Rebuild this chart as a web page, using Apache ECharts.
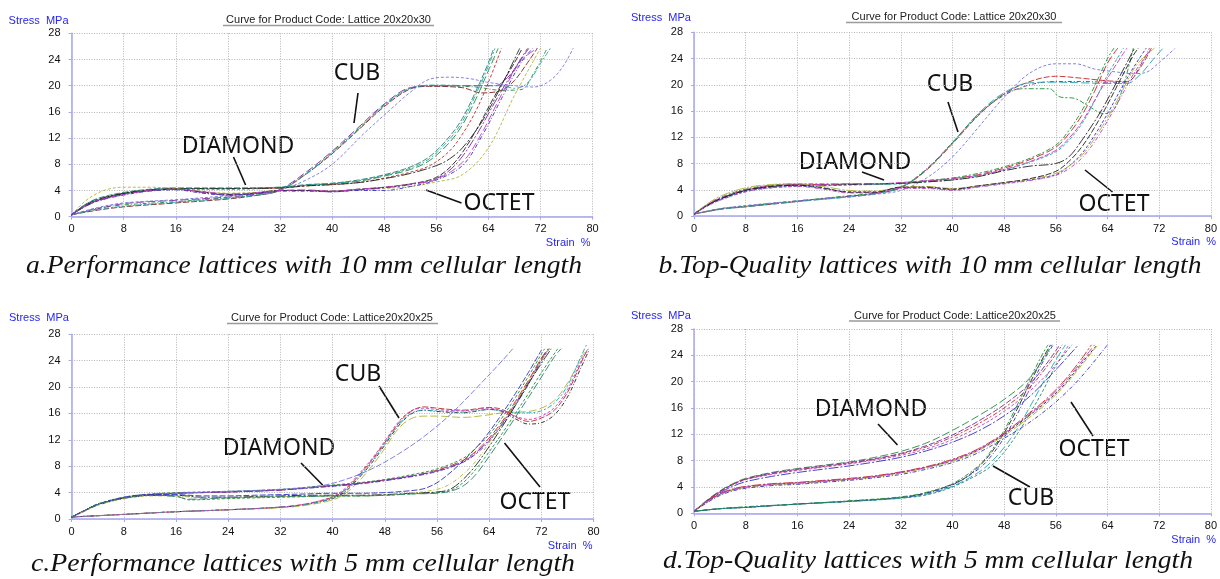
<!DOCTYPE html>
<html>
<head>
<meta charset="utf-8">
<script src="https://cdn.jsdelivr.net/npm/echarts@6/dist/echarts.min.js"></script>
<style>
html,body{margin:0;padding:0;background:#fff;}
#c{width:1220px;height:579px;}
</style>
</head>
<body>
<div id="c"></div>
<script>
// ---------- axis ticks ----------
const strainTicks = [0, 8, 16, 24, 32, 40, 48, 56, 64, 72, 80];
const stressTicks = [0, 4, 8, 12, 16, 20, 24, 28];

// ---------- panel a : Performance 10 mm ----------
const aCUB = [
 [[0,0.3],[4,1.0],[8,1.5],[16,2.1],[24,2.7],[28,3.2],[32,4.0],[36,6.5],[40,9.6],[44,13.2],[48,16.8],[52,19.5],[55,19.9],[60,19.7],[63,18.9],[66,19.3],[68,20.8],[70,23.5],[71.5,25.7]],
 [[0,0.3],[4,1.3],[8,1.8],[16,2.3],[24,2.9],[28,3.3],[32,4.1],[36,6.6],[40,9.8],[44,13.4],[48,17.0],[52,19.6],[56,20.0],[62,19.8],[66,19.3],[69,19.4],[71,22.0],[73,25.7]],
 [[0,0.3],[4,1.2],[8,2.0],[16,2.5],[24,3.0],[28,3.4],[32,4.2],[36,6.8],[40,10.0],[44,13.6],[48,17.2],[52,19.7],[56,20.0],[62,20.0],[65,20.0],[67,21.3],[69,24.0],[70.2,25.7]],
 [[0,0.3],[4,1.1],[8,1.6],[16,2.2],[24,2.8],[28,3.2],[32,4.0],[36,6.5],[40,9.7],[44,13.3],[48,17.0],[52,19.6],[56,20.1],[62,20.0],[66,20.0],[68,19.6],[70,20.4],[72,23.4],[73.5,25.7]],
 [[0,0.3],[4,1.4],[8,2.1],[16,2.6],[24,3.2],[28,3.6],[32,4.1],[36,5.6],[40,8.0],[45,12.8],[49,16.4],[52,19.0],[55,21.0],[58,21.3],[61,21.1],[64,20.5],[68,20.0],[71,19.8],[73.5,20.8],[75.5,23.0],[77,25.7]]
];
const aDIAMOND = [
 [[0,0.3],[2,1.8],[4,2.7],[8,3.6],[12,4.1],[16,4.3],[24,4.3],[32,4.4],[36,4.8],[40,5.0],[44,5.4],[48,6.2],[52,7.2],[55,8.6],[58,11.3],[60,14.0],[62,17.8],[64,22.3],[65.5,25.7]],
 [[0,0.3],[2,1.7],[4,2.6],[8,3.5],[12,4.0],[16,4.3],[24,4.3],[32,4.5],[36,4.8],[40,5.1],[44,5.5],[48,6.3],[52,7.4],[55,8.9],[58,11.8],[60,14.5],[62,18.5],[64,23.0],[65,25.7]],
 [[0,0.3],[2,1.6],[4,2.5],[8,3.5],[12,4.0],[16,4.2],[24,4.2],[32,4.4],[36,4.7],[40,4.9],[44,5.2],[48,5.9],[52,6.8],[55,7.8],[58,10.0],[60,12.6],[62,16.0],[64,20.5],[66,25.7]],
 [[0,0.3],[2,1.7],[4,2.6],[8,3.6],[12,4.1],[16,4.3],[24,4.3],[32,4.4],[36,4.7],[40,4.9],[44,5.2],[48,5.8],[52,6.6],[56,7.8],[58,8.8],[60,10.5],[63,14.5],[66,20.0],[68.8,25.7]],
 [[0,0.3],[2,1.8],[4,2.8],[8,3.7],[12,4.2],[16,4.4],[24,4.4],[32,4.5],[36,4.9],[40,5.1],[44,5.6],[48,6.4],[52,7.6],[55,9.2],[58,12.2],[60,15.0],[62,19.0],[64,23.5],[64.8,25.7]]
];
const aOCTET = [
 [[0,0.3],[2,2.3],[4,3.6],[6,4.3],[8,4.5],[12,4.5],[16,4.3],[20,3.9],[24,3.6],[28,3.7],[32,4.0],[36,4.0],[40,3.9],[44,4.1],[48,4.3],[52,4.6],[56,5.3],[60,6.4],[64,10.5],[68,18.5],[72,25.7]],
 [[0,0.3],[2,1.5],[4,2.4],[8,3.4],[12,4.0],[16,4.2],[20,3.7],[24,3.3],[28,3.5],[32,4.0],[36,4.0],[40,3.8],[44,4.1],[48,4.4],[52,4.9],[56,5.8],[59,8.0],[62,12.2],[65,17.5],[68,22.5],[70,25.7]],
 [[0,0.3],[2,1.6],[4,2.5],[8,3.5],[12,4.0],[16,4.2],[20,3.8],[24,3.4],[28,3.6],[32,4.0],[36,4.0],[40,3.9],[44,4.2],[48,4.5],[52,5.0],[56,6.0],[59,8.5],[62,13.0],[65,18.5],[68,23.5],[69.2,25.7]],
 [[0,0.3],[2,1.5],[4,2.4],[8,3.3],[12,3.9],[16,4.1],[20,3.6],[24,3.3],[28,3.5],[32,3.9],[36,3.9],[40,3.8],[44,4.0],[48,4.0],[52,4.6],[56,5.6],[60,7.8],[63,12.3],[66,18.0],[69,23.5],[70.8,25.7]],
 [[0,0.3],[2,1.6],[4,2.5],[8,3.4],[12,4.0],[16,4.2],[20,3.8],[24,3.5],[28,3.6],[32,4.0],[36,4.1],[40,3.9],[44,4.2],[48,4.5],[52,5.0],[56,5.7],[60,8.3],[63,12.8],[66,18.6],[69,23.8],[71.5,25.7]]
];

// ---------- panel b : Top-Quality 10 mm ----------
const bCUB = [
 [[0,0.3],[4,1.0],[8,1.4],[16,2.2],[24,3.0],[28,3.4],[32,4.3],[36,7.0],[40,11.0],[44,15.3],[48,18.6],[52,20.5],[56,21.3],[60,21.0],[64,20.6],[67,20.5],[69,22.5],[70.8,25.6]],
 [[0,0.3],[4,1.1],[8,1.5],[16,2.3],[24,3.0],[28,3.5],[32,4.4],[36,7.2],[40,11.2],[44,15.5],[48,18.4],[52,20.0],[56,20.5],[60,20.5],[64,20.4],[67,20.4],[69,22.8],[70.5,25.6]],
 [[0,0.3],[4,1.0],[8,1.4],[16,2.2],[24,2.9],[28,3.4],[32,4.3],[36,7.1],[40,11.1],[44,15.6],[48,18.8],[52,20.3],[56,20.4],[60,20.3],[64,20.2],[67,20.2],[69,21.5],[71,23.8],[72.6,25.6]],
 [[0,0.3],[4,1.1],[8,1.5],[16,2.3],[24,3.1],[28,3.5],[32,4.4],[36,7.1],[40,11.2],[44,15.4],[48,18.6],[51,19.4],[55,19.4],[56.5,18.2],[59,17.9],[61,16.8],[63.5,15.6],[65,16.2],[66.5,20.0],[68,25.6]],
 [[0,0.3],[4,1.1],[8,1.6],[16,2.3],[24,2.9],[28,3.3],[32,3.9],[36,5.8],[40,9.0],[44,13.5],[48,18.1],[52,21.8],[56,23.2],[59,23.2],[62,22.4],[65,22.0],[68,21.7],[70,21.9],[72,23.4],[74.4,25.5]]
];
const bDIAMOND = [
 [[0,0.3],[2,1.6],[4,2.6],[8,4.0],[12,4.6],[16,4.8],[20,4.8],[24,4.9],[28,4.9],[32,5.0],[36,5.3],[40,5.7],[44,6.3],[48,7.3],[52,8.6],[56,10.5],[58,12.5],[60,15.3],[62,19.0],[64,23.3],[65.6,25.6]],
 [[0,0.3],[2,1.7],[4,2.8],[8,4.1],[12,4.7],[16,4.9],[20,4.9],[24,4.8],[28,4.8],[32,5.0],[36,5.4],[40,5.8],[44,6.5],[48,7.5],[52,8.8],[56,10.8],[58,13.0],[60,16.0],[62,19.8],[64,24.0],[65,25.6]],
 [[0,0.3],[2,1.5],[4,2.4],[8,3.7],[12,4.3],[16,4.5],[20,4.6],[24,4.7],[28,4.8],[32,4.9],[36,5.2],[40,5.5],[44,6.1],[48,7.0],[52,8.2],[56,9.8],[58,11.5],[60,14.0],[62,17.5],[64,21.5],[66.5,25.6]],
 [[0,0.3],[2,1.6],[4,2.6],[8,3.9],[12,4.5],[16,4.7],[20,4.7],[24,4.8],[28,4.9],[32,5.0],[36,5.2],[40,5.5],[44,6.0],[48,6.9],[52,7.6],[56,8.0],[58,9.0],[60,11.5],[63,16.0],[66,21.5],[68.2,25.6]],
 [[0,0.3],[2,1.7],[4,2.7],[8,4.0],[12,4.6],[16,4.8],[20,4.8],[24,4.9],[28,4.9],[32,5.1],[36,5.4],[40,5.7],[44,6.2],[48,7.1],[52,8.3],[56,10.0],[58,11.8],[60,14.3],[62,17.6],[64,21.0],[67,25.6]]
];
const bOCTET = [
 [[0,0.3],[2,1.5],[4,2.5],[8,3.8],[12,4.4],[16,4.6],[20,4.2],[24,3.7],[28,3.7],[32,4.3],[36,4.3],[40,4.0],[44,4.5],[48,5.0],[52,5.5],[56,6.3],[58,7.6],[60,9.5],[62,12.3],[64,15.6],[66,19.2],[68,22.6],[70,25.6]],
 [[0,0.3],[2,1.8],[4,3.0],[8,4.3],[12,4.8],[16,4.9],[20,4.5],[24,3.9],[28,3.8],[32,4.4],[36,4.5],[40,4.2],[44,4.6],[48,5.1],[52,5.6],[56,6.5],[58,7.6],[60,9.2],[62,11.8],[64,15.0],[66,18.5],[68.5,23.0],[71.3,25.6]],
 [[0,0.3],[2,1.6],[4,2.6],[8,3.9],[12,4.5],[16,4.7],[20,4.3],[24,3.6],[28,3.6],[32,4.4],[36,4.4],[40,4.1],[44,4.6],[48,5.1],[52,5.7],[56,6.8],[58,8.3],[60,10.5],[62,13.5],[64,17.0],[66,20.8],[68,24.5],[68.8,25.6]],
 [[0,0.3],[2,1.5],[4,2.4],[8,3.7],[12,4.3],[16,4.5],[20,4.1],[24,3.5],[28,3.5],[32,4.2],[36,4.2],[40,3.9],[44,4.4],[48,4.9],[52,5.4],[56,6.2],[58,7.2],[60,8.8],[62,11.3],[64,14.5],[66,18.0],[68,21.6],[70.8,25.6]]
];

// ---------- panel c : Performance 5 mm ----------
const cCUB = [
 [[0,0.3],[4,0.5],[8,0.7],[16,1.1],[24,1.4],[32,1.8],[36,2.3],[40,3.3],[42,4.5],[44,6.6],[46,8.9],[48,11.6],[50,14.4],[52,16.3],[54,17.0],[56,16.8],[60,16.5],[64,16.9],[66,16.6],[68,15.5],[70,14.8],[72,15.3],[74,16.5],[76,19.2],[78,23.5],[79,25.6]],
 [[0,0.3],[4,0.5],[8,0.7],[16,1.1],[24,1.4],[32,1.8],[36,2.2],[40,3.1],[42,4.2],[44,6.2],[46,8.5],[48,11.2],[50,14.0],[52,15.9],[54,16.5],[56,16.3],[60,16.1],[64,16.6],[66,16.3],[68,15.2],[70,14.4],[72,14.6],[74,15.8],[76,18.5],[78,22.8],[79.3,25.6]],
 [[0,0.3],[4,0.5],[8,0.7],[16,1.1],[24,1.4],[32,1.7],[36,2.1],[40,2.9],[42,3.9],[44,5.7],[46,8.0],[48,10.7],[50,13.6],[52,15.2],[54,15.6],[56,15.6],[60,15.4],[64,15.8],[66,16.1],[68,16.2],[70,16.3],[72,16.8],[74,18.0],[76,20.6],[78,24.2],[78.8,25.6]],
 [[0,0.3],[4,0.5],[8,0.7],[16,1.1],[24,1.4],[32,1.8],[36,2.2],[40,3.2],[42,4.4],[44,6.4],[46,8.7],[48,11.4],[50,14.2],[52,16.0],[54,16.5],[56,16.4],[60,16.2],[64,16.6],[66,16.4],[68,16.1],[70,16.1],[72,16.4],[74,17.6],[76,20.2],[78,24.5],[79,26.6]],
 [[0,0.3],[4,0.5],[8,0.7],[16,1.1],[24,1.4],[32,1.8],[36,2.3],[40,3.4],[42,4.7],[44,6.8],[46,9.1],[48,11.8],[50,14.6],[52,16.4],[54,16.8],[56,16.6],[60,16.4],[64,16.8],[66,16.4],[68,15.6],[70,15.1],[72,15.6],[74,16.9],[76,19.6],[78,23.8],[79.2,25.8]]
];
const cDIAMOND = [
 [[0,0.3],[2,1.3],[4,2.2],[8,3.2],[12,3.7],[16,3.9],[24,4.1],[32,4.4],[38,4.9],[44,5.4],[48,5.9],[52,6.5],[56,7.4],[60,8.9],[62,10.3],[64,12.3],[66,14.8],[68,17.8],[70,21.0],[72,24.4],[73,25.8]],
 [[0,0.3],[2,1.2],[4,2.1],[8,3.1],[12,3.6],[16,3.9],[24,4.1],[32,4.4],[38,4.8],[44,5.3],[48,5.8],[52,6.4],[56,7.2],[60,8.6],[62,9.9],[64,11.8],[66,14.3],[68,17.2],[70,20.4],[72,24.0],[73.2,25.8]],
 [[0,0.3],[2,1.3],[4,2.3],[8,3.3],[12,3.8],[16,4.0],[24,4.2],[32,4.5],[38,5.0],[44,5.5],[48,6.0],[52,6.7],[56,7.6],[60,9.2],[62,10.8],[64,12.8],[66,15.4],[68,18.4],[70,21.6],[72,25.0],[72.5,25.8]],
 [[0,0.3],[2,1.2],[4,2.2],[8,3.2],[12,3.7],[16,3.9],[24,4.1],[32,4.4],[38,4.9],[44,5.4],[48,5.9],[52,6.5],[56,7.3],[60,8.7],[62,10.1],[64,12.0],[66,14.5],[68,17.5],[70,20.7],[72,24.2],[73.1,25.8]],
 [[0,0.3],[2,1.3],[4,2.2],[8,3.2],[12,3.7],[16,3.9],[24,4.2],[32,4.5],[38,5.0],[42,6.0],[46,7.6],[50,9.8],[54,12.5],[58,15.8],[62,19.8],[66,24.0],[67.6,25.8]]
];
const cOCTET = [
 [[0,0.3],[2,1.3],[4,2.2],[8,3.2],[12,3.6],[16,3.5],[18,2.9],[24,3.1],[28,3.2],[32,3.3],[36,3.4],[40,3.5],[44,3.5],[48,3.6],[52,3.8],[56,4.0],[58,4.3],[60,5.5],[62,7.6],[64,10.2],[66,13.0],[68,16.0],[70,19.0],[72,22.2],[74.5,25.8]],
 [[0,0.3],[2,1.3],[4,2.2],[8,3.2],[12,3.6],[16,3.6],[20,3.3],[24,3.3],[28,3.4],[32,3.5],[36,3.6],[40,3.6],[44,3.6],[48,3.7],[52,3.9],[56,4.1],[58,4.5],[60,6.0],[62,8.2],[64,11.0],[66,14.0],[68,17.2],[70,20.5],[72,23.6],[73.5,25.8]],
 [[0,0.3],[2,1.3],[4,2.2],[8,3.3],[12,3.7],[16,3.7],[20,3.5],[24,3.5],[28,3.6],[32,3.7],[36,3.8],[40,3.9],[44,3.9],[48,4.0],[52,4.3],[54,4.6],[56,5.5],[58,7.0],[60,8.8],[62,10.8],[64,13.2],[66,16.0],[68,19.0],[70,22.2],[72,25.6]],
 [[0,0.3],[2,1.2],[4,2.1],[8,3.1],[12,3.5],[16,3.5],[20,3.2],[24,3.2],[28,3.3],[32,3.4],[36,3.4],[40,3.5],[44,3.5],[48,3.6],[52,3.9],[56,4.5],[58,5.3],[60,6.8],[62,8.8],[64,11.6],[66,14.5],[68,17.6],[70,20.8],[72,24.0],[73.2,25.8]],
 [[0,0.3],[2,1.3],[4,2.2],[8,3.2],[12,3.6],[16,3.4],[18,3.0],[24,3.2],[28,3.3],[32,3.4],[36,3.4],[40,3.5],[44,3.5],[48,3.6],[52,3.8],[56,3.9],[58,4.2],[60,5.0],[62,6.8],[64,9.5],[66,12.4],[68,15.4],[70,18.4],[72,21.5],[74,24.6],[75,25.8]]
];

// ---------- panel d : Top-Quality 5 mm ----------
const dDIAMOND = [
 [[0,0.3],[2,2.0],[4,3.4],[6,4.5],[8,5.3],[12,6.2],[16,6.8],[20,7.3],[24,7.8],[28,8.5],[32,9.4],[36,10.7],[40,12.6],[44,14.8],[48,17.3],[52,20.6],[55.4,25.6]],
 [[0,0.3],[2,1.9],[4,3.3],[6,4.4],[8,5.2],[12,6.0],[16,6.6],[20,7.1],[24,7.6],[28,8.2],[32,9.0],[36,10.1],[40,11.6],[44,13.6],[48,16.0],[52,19.2],[55,22.8],[57,25.6]],
 [[0,0.3],[2,1.9],[4,3.2],[6,4.3],[8,5.1],[12,5.9],[16,6.5],[20,7.0],[24,7.5],[28,8.1],[32,8.8],[36,9.8],[40,11.2],[44,13.1],[48,15.5],[52,18.6],[56,22.6],[58,25.6]],
 [[0,0.3],[2,1.8],[4,3.1],[6,4.1],[8,4.8],[12,5.6],[16,6.2],[20,6.7],[24,7.2],[28,7.8],[32,8.5],[36,9.5],[40,10.8],[44,12.5],[48,14.8],[52,17.8],[56,21.8],[59.5,25.6]],
 [[0,0.3],[2,1.9],[4,3.3],[6,4.4],[8,5.2],[12,6.1],[16,6.7],[20,7.2],[24,7.7],[28,8.3],[32,9.1],[36,10.3],[40,11.9],[44,14.0],[48,16.5],[52,19.7],[55,23.3],[56.6,25.6]]
];
const dOCTET = [
 [[0,0.3],[2,1.7],[4,2.9],[6,3.6],[8,4.0],[12,4.4],[16,4.6],[20,4.9],[24,5.2],[28,5.6],[32,6.2],[36,7.0],[40,8.0],[44,9.6],[48,12.0],[51,14.2],[54,16.5],[57,19.2],[60,22.8],[62.4,25.6]],
 [[0,0.3],[2,1.8],[4,3.0],[6,3.7],[8,4.1],[12,4.5],[16,4.7],[20,5.0],[24,5.3],[28,5.7],[32,6.3],[36,7.1],[40,8.2],[44,9.8],[48,12.2],[51,14.5],[54,16.9],[57,19.8],[60,23.5],[61.5,25.6]],
 [[0,0.3],[2,1.7],[4,2.8],[6,3.5],[8,3.9],[12,4.3],[16,4.5],[20,4.8],[24,5.1],[28,5.5],[32,6.1],[36,6.9],[40,7.9],[44,9.5],[48,11.8],[51,13.9],[54,16.2],[57,19.0],[60,22.5],[62.5,25.6]],
 [[0,0.3],[2,1.6],[4,2.7],[6,3.4],[8,3.8],[12,4.2],[16,4.4],[20,4.7],[24,5.0],[28,5.4],[32,5.9],[36,6.7],[40,7.7],[44,9.2],[48,11.4],[51,13.2],[54,15.3],[57,17.8],[60,20.8],[64,25.6]],
 [[0,0.3],[2,1.8],[4,2.9],[6,3.6],[8,4.0],[12,4.4],[16,4.6],[20,4.9],[24,5.2],[28,5.6],[32,6.2],[36,7.0],[40,8.1],[44,9.7],[48,12.1],[51,14.3],[54,16.7],[57,19.5],[60,23.1],[62,25.6]]
];
const dCUB = [
 [[0,0.3],[4,0.7],[8,0.9],[16,1.4],[24,1.85],[32,2.4],[36,3.1],[40,4.4],[42,5.4],[44,7.0],[46,9.2],[48,12.2],[50,15.8],[52,19.8],[54,23.6],[55.2,25.6]],
 [[0,0.3],[4,0.7],[8,0.9],[16,1.4],[24,1.8],[32,2.4],[36,3.0],[40,4.3],[44,6.7],[46,8.7],[48,11.5],[50,15.0],[52,19.0],[54,23.0],[55.6,25.6]],
 [[0,0.3],[4,0.7],[8,0.9],[16,1.4],[24,1.8],[32,2.3],[36,2.9],[40,4.1],[44,6.2],[46,7.8],[48,10.0],[50,12.8],[52,16.2],[54,19.8],[56,23.3],[57.5,25.6]],
 [[0,0.3],[4,0.7],[8,1.0],[16,1.4],[24,1.9],[32,2.5],[36,3.2],[40,4.5],[44,7.2],[46,9.5],[48,12.6],[50,16.4],[52,20.4],[54,24.3],[54.8,25.6]],
 [[0,0.3],[4,0.7],[8,0.9],[16,1.4],[24,1.8],[32,2.3],[36,2.8],[40,4.0],[44,5.9],[46,7.2],[48,9.3],[50,12.0],[52,15.2],[54,18.6],[56,22.4],[58.5,25.6]]
];

// ---------- texts ----------
const panelTitles = ['Curve for Product Code: Lattice 20x20x30','Curve for Product Code: Lattice 20x20x30','Curve for Product Code: Lattice20x20x25','Curve for Product Code: Lattice20x20x25'];
const captions = ['a.Performance lattices with 10 mm cellular length','b.Top-Quality lattices with 10 mm cellular length','c.Performance lattices with 5 mm cellular length','d.Top-Quality lattices with 5 mm cellular length'];
const yName = 'Stress  MPa';
const xName = 'Strain  %';

// ---------- layout & styles (pixels / colours) ----------
const grids = [
  {left:71.6, top:33.3, width:521, height:183.4},
  {left:694, top:32.3, width:522, height:183.7},
  {left:71.6, top:334.3, width:522, height:184.7},
  {left:694, top:329, width:522, height:184.3}
];
const panelGroups = [
  [aCUB, aDIAMOND, aOCTET],
  [bCUB, bDIAMOND, bOCTET],
  [cCUB, cDIAMOND, cOCTET],
  [dCUB, dDIAMOND, dOCTET]
];
const C = {red:'#c42828', maroon:'#8a1c1c', green:'#1f8f3a', purple:'#7a2a9e', cyan:'#1ea6b0', blue:'#3030c8',
           lblue:'#7474e0', black:'#222222', olive:'#b3b336', magenta:'#c23cc2', teal:'#2a8070'};
const curveColors = [
  [['maroon','green','purple','cyan','lblue'], ['green','cyan','red','black','teal'], ['olive','purple','black','blue','magenta']],
  [['red','purple','cyan','green','lblue'], ['red','green','cyan','black','magenta'], ['blue','olive','black','magenta']],
  [['red','black','olive','cyan','magenta'], ['red','blue','green','purple','lblue'], ['green','black','blue','olive','teal']],
  [['black','blue','cyan','green','teal'], ['green','red','magenta','blue','purple'], ['black','red','olive','blue','magenta']]
];
const dashes = [[6,2],[4,2,1,2],[8,3],[5,2,2,2],[3,2],[10,2,2,2]];

const series = [];
panelGroups.forEach((groups, p) => {
  groups.forEach((curves, g) => {
    curves.forEach((curve, i) => {
      series.push({
        type:'line', xAxisIndex:p, yAxisIndex:p, data:curve,
        smooth:0.35, symbol:'none', silent:true,
        lineStyle:{color:C[curveColors[p][g][i]], width:1, type:dashes[(g*2+i) % dashes.length], opacity:0.9}
      });
    });
  });
});

const axisBlue = '#a7a7f2';
const xAxes = grids.map((g, i) => ({
  type:'value', gridIndex:i, min:strainTicks[0], max:strainTicks[strainTicks.length-1], interval:8,
  axisLine:{show:true, onZero:false, lineStyle:{color:axisBlue, width:1.5}},
  axisTick:{show:true, length:3, lineStyle:{color:axisBlue}},
  axisLabel:{color:'#111', fontSize:11, fontFamily:'Liberation Sans', margin:7},
  splitLine:{show:true, lineStyle:{color:'#b4b4b4', type:[1,1.5], width:1}}
}));
const yAxes = grids.map((g, i) => ({
  type:'value', gridIndex:i, min:stressTicks[0], max:stressTicks[stressTicks.length-1], interval:4,
  axisLine:{show:true, onZero:false, lineStyle:{color:axisBlue, width:1.5}},
  axisTick:{show:true, length:3, lineStyle:{color:axisBlue}},
  axisLabel:{color:'#111', fontSize:11, fontFamily:'Liberation Sans', margin:11},
  splitLine:{show:true, lineStyle:{color:'#b4b4b4', type:[1,1.5], width:1}}
}));

// annotation positions (pixels)
const notes = [
  {t:'CUB', x:357, y:73, l:[358,93,354,123]},
  {t:'DIAMOND', x:238, y:146, l:[233.5,157,245.6,185]},
  {t:'OCTET', x:499, y:203, l:[426,190,461.5,203]},
  {t:'CUB', x:950, y:84, l:[948,102,958,132]},
  {t:'DIAMOND', x:855, y:162, l:[862,172,884,180]},
  {t:'OCTET', x:1114, y:204, l:[1085,170,1112.5,192]},
  {t:'CUB', x:358, y:374, l:[379,386,399,418]},
  {t:'DIAMOND', x:279, y:448, l:[301,463,322.6,485]},
  {t:'OCTET', x:535, y:502, l:[504.5,443,540,487]},
  {t:'DIAMOND', x:871, y:409, l:[878,424,897.5,445]},
  {t:'CUB', x:1031, y:498, l:[993,466,1030,487]},
  {t:'OCTET', x:1094, y:449, l:[1071,402,1093,436]}
];
const titlePos = [
  {x:328.5, y:20, u:[223,434,25.5]},
  {x:954, y:17, u:[846,1062,22.5]},
  {x:332, y:318, u:[227,438,323.5]},
  {x:955, y:316, u:[849,1060,321]}
];
const yNamePos = [[8.6,21],[631,18],[9,318],[631,316]];
const xNamePos = [[590.5,243],[1216,242],[592.5,546],[1216,540]];
const capPos = [
  {x:304, y:266, w:556},
  {x:930, y:266, w:543},
  {x:303, y:564, w:544},
  {x:928, y:561, w:530}
];

const capFont = 'italic 26px "Liberation Serif"';
const mctx = document.createElement('canvas').getContext('2d');
mctx.font = capFont;

const graphic = [];
titlePos.forEach((tp, i) => {
  graphic.push({type:'text', x:tp.x, y:tp.y, silent:true,
    style:{text:panelTitles[i], textAlign:'center', textVerticalAlign:'middle', font:'11px "Liberation Sans"', fill:'#222'}});
  graphic.push({type:'line', silent:true, shape:{x1:tp.u[0], y1:tp.u[2], x2:tp.u[1], y2:tp.u[2]}, style:{stroke:'#9a9a9a', lineWidth:1.6}});
  graphic.push({type:'text', x:yNamePos[i][0], y:yNamePos[i][1], silent:true,
    style:{text:yName, textAlign:'left', textVerticalAlign:'middle', font:'11px "Liberation Sans"', fill:'#2626f0'}});
  graphic.push({type:'text', x:xNamePos[i][0], y:xNamePos[i][1], silent:true,
    style:{text:xName, textAlign:'right', textVerticalAlign:'middle', font:'11px "Liberation Sans"', fill:'#2626f0'}});
  const w = mctx.measureText(captions[i]).width;
  graphic.push({type:'text', x:capPos[i].x, y:capPos[i].y, scaleX:capPos[i].w / w, silent:true,
    style:{text:captions[i], textAlign:'center', textVerticalAlign:'middle', font:capFont, fill:'#111'}});
});
notes.forEach(n => {
  graphic.push({type:'text', x:n.x, y:n.y, silent:true,
    style:{text:n.t, textAlign:'center', textVerticalAlign:'middle', font:'23px "Noto Sans"', fill:'#111'}});
  graphic.push({type:'line', silent:true, shape:{x1:n.l[0], y1:n.l[1], x2:n.l[2], y2:n.l[3]}, style:{stroke:'#111', lineWidth:1.6}});
});

const chart = echarts.init(document.getElementById('c'), null, {renderer:'canvas'});
chart.setOption({
  animation:false,
  backgroundColor:'#fff',
  grid: grids.map(g => Object.assign({containLabel:false, show:false}, g)),
  xAxis: xAxes,
  yAxis: yAxes,
  series: series,
  graphic: graphic
});
</script>
</body>
</html>
